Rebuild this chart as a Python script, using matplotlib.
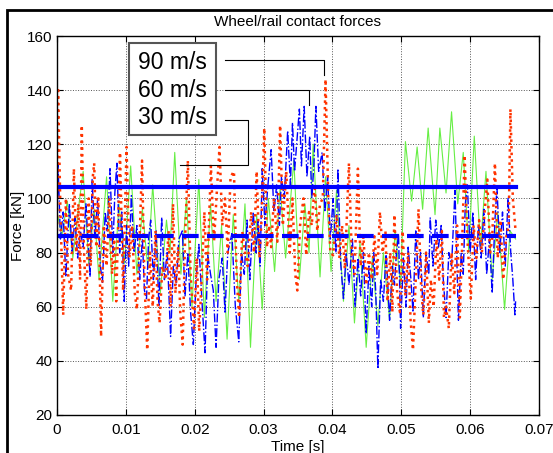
import numpy as np
import matplotlib.pyplot as plt
from matplotlib.patches import Rectangle

plt.rcParams['font.family'] = ['Liberation Sans', 'DejaVu Sans']

# 30 m/s (green, solid) - peaks/troughs, time in ms
t30 = [0.0, 0.7, 1.5, 2.3, 3.1, 3.8, 4.6, 5.4, 6.1, 7.2, 8.1, 9.0, 9.8, 10.7, 11.6,
       12.4, 13.2, 13.9, 15.0, 15.9, 16.4, 17.1, 18.0, 18.8, 19.6, 20.6, 21.4, 22.3,
       23.1, 23.9, 24.7, 25.6, 26.4, 27.3, 28.1, 29.0, 29.8, 30.7, 31.6, 32.4, 33.2,
       34.4, 35.2, 36.0, 36.6, 37.2, 38.2, 39.0, 39.8, 40.6, 41.6, 42.4, 43.2, 44.0,
       44.9, 45.8, 46.6, 47.4, 48.3, 49.1, 49.9, 50.6, 51.5, 52.3, 53.1, 53.9, 54.9,
       55.6, 56.5, 57.3, 58.2, 59.0, 59.8, 60.6, 61.5, 62.3, 63.2, 64.0, 65.0, 65.8, 66.6]
f30 = [95, 86, 99, 78, 96, 110, 76, 96, 70, 108, 62, 98, 76, 112, 72,
       96, 74, 105, 65, 92, 80, 117, 72, 100, 60, 107, 56, 98,
       62, 90, 48, 94, 62, 98, 45, 94, 59, 100, 73, 104, 78,
       114, 70, 98, 80, 120, 71, 108, 73, 103, 62, 90, 54, 84,
       45, 78, 53, 80, 55, 88, 68, 121, 99, 119, 96, 126, 94,
       126, 102, 132, 98, 117, 80, 123, 82, 110, 70, 95, 59, 88, 85]

# 60 m/s (blue, dash-dot)
t60 = [0.0, 0.15, 0.5, 0.9, 1.28, 1.8, 2.2, 2.6, 3.0, 3.4, 3.8, 4.2, 4.8, 5.1, 5.5,
       5.9, 6.3, 6.6, 7.0, 7.3, 7.7, 8.1, 8.4, 8.7, 9.1, 9.4, 9.76, 10.1, 10.4, 10.8,
       11.2, 11.6, 12.0, 12.4, 12.7, 13.0, 13.3, 13.6, 14.0, 14.4, 14.8, 15.2, 15.6,
       16.0, 16.5, 16.9, 17.3, 17.7, 18.2, 18.6, 19.0, 19.4, 19.8, 20.2, 20.6, 21.1,
       21.5, 21.9, 22.3, 22.7, 23.1, 23.5, 24.0, 24.4, 24.8, 25.4, 25.9, 26.4, 26.8,
       27.2, 27.6, 28.0, 28.5, 28.9, 29.2, 29.5, 29.8, 30.2, 30.6, 31.1, 31.5, 31.9,
       32.3, 32.6, 33.0, 33.5, 33.9, 34.2, 34.5, 34.8, 35.2, 35.5, 35.9, 36.3, 36.7,
       37.0, 37.3, 37.6, 38.0, 38.5, 38.9, 39.3, 39.7, 40.1, 40.5, 40.8, 41.2, 41.6,
       42.0, 42.4, 42.9, 43.3, 43.7, 44.1, 44.5, 44.9, 45.3, 45.7, 46.0, 46.3, 46.6,
       47.0, 47.4, 47.8, 48.3, 48.7, 49.0, 49.3, 49.6, 49.9, 50.3, 50.7, 51.0, 51.4,
       51.7, 52.1, 52.5, 52.8, 53.2, 53.6, 54.0, 54.2, 54.6, 55.0, 55.4, 55.8, 56.1,
       56.5, 56.9, 57.3, 57.8, 58.1, 58.3, 58.7, 59.0, 59.3, 59.6, 60.0, 60.4, 60.8,
       61.2, 61.6, 62.0, 62.4, 62.8, 63.2, 63.6, 63.9, 64.3, 64.7, 65.1, 65.5, 65.9,
       66.2, 66.5, 66.6]
f60 = [90, 113, 85, 95, 71, 98, 80, 93, 78, 88, 82, 98, 71, 107, 85,
       100, 75, 69, 95, 88, 111, 80, 102, 113, 80, 95, 62, 90, 75, 101,
       80, 90, 70, 85, 66, 63, 85, 92, 70, 88, 60, 93, 70,
       80, 49, 75, 68, 85, 88, 64, 80, 58, 46, 70, 83, 60,
       43, 79, 72, 66, 45, 70, 78, 58, 80, 87, 60, 47, 80,
       72, 92, 70, 95, 80, 92, 75, 111, 90, 104, 118, 95, 105,
       90, 108, 100, 125, 105, 128, 110, 120, 133, 112, 134, 108, 123,
       100, 112, 134, 110, 117, 95, 108, 85, 100, 80, 111, 76, 63,
       80, 68, 85, 60, 78, 64, 80, 50, 75, 60, 80, 65, 37,
       70, 62, 80, 55, 75, 68, 80, 87, 52, 78, 60, 82, 70,
       58, 88, 70, 80, 56, 80, 72, 93, 75, 92, 82, 90, 70,
       56, 80, 75, 103, 75, 55, 80, 72, 98, 105, 80, 95, 70,
       90, 78, 96, 72, 85, 65, 92, 104, 80, 95, 75, 100, 80,
       70, 57, 62]

# 90 m/s (red, dotted)
t90 = [0.0, 0.15, 0.5, 0.9, 1.3, 1.6, 2.05, 2.45, 2.8, 3.1, 3.35, 3.6, 3.9, 4.26,
       4.6, 4.9, 5.2, 5.4, 5.7, 6.0, 6.4, 6.8, 7.2, 7.6, 8.0, 8.3, 8.6, 9.15, 9.6,
       10.1, 10.5, 10.9, 11.3, 11.6, 12.0, 12.35, 12.7, 13.1, 13.5, 13.9, 14.3, 14.6,
       14.9, 15.3, 15.8, 16.2, 16.5, 16.85, 17.2, 17.6, 17.9, 18.25, 18.6, 19.0, 19.4,
       19.9, 20.3, 20.65, 21.0, 21.4, 21.8, 22.35, 22.8, 23.2, 23.6, 24.0, 24.4, 24.8,
       25.2, 25.7, 26.1, 26.45, 26.9, 27.3, 27.7, 28.2, 28.6, 29.0, 29.4, 29.7, 30.1,
       30.5, 30.8, 31.1, 31.5, 32.0, 32.4, 32.8, 33.3, 33.8, 34.2, 34.6, 34.9, 35.3,
       35.8, 36.2, 36.6, 37.0, 37.4, 37.8, 38.2, 38.6, 39.0, 39.4, 39.7, 40.1, 40.6,
       41.0, 41.4, 41.8, 42.4, 42.8, 43.2, 43.7, 44.1, 44.5, 44.9, 45.3, 45.7, 46.1,
       46.5, 46.9, 47.3, 47.7, 48.0, 48.4, 48.7, 49.0, 49.4, 49.8, 50.2, 50.6, 51.0,
       51.35, 51.7, 52.1, 52.5, 52.9, 53.2, 53.6, 54.0, 54.3, 54.7, 55.1, 55.5, 55.9,
       56.2, 56.5, 56.9, 57.3, 57.7, 58.1, 58.5, 58.8, 59.2, 59.6, 60.1, 60.5, 60.9,
       61.3, 61.7, 62.1, 62.5, 62.9, 63.2, 63.6, 64.0, 64.4, 64.8, 65.2, 65.6, 65.85,
       66.2, 66.6]
f90 = [88, 141, 95, 57, 100, 72, 66, 111, 80, 98, 70, 127, 82, 59,
       100, 75, 108, 113, 82, 100, 49, 90, 75, 100, 72, 85, 62, 117, 66,
       119, 78, 90, 65, 59, 85, 114, 70, 44, 80, 60, 88, 62,
       54, 75, 70, 88, 60, 98, 65, 82, 58, 46, 85, 114, 72,
       52, 78, 51, 70, 95, 70, 112, 84, 102, 119, 90, 100, 80,
       108, 110, 70, 56, 88, 80, 75, 95, 80, 110, 78, 92, 126,
       82, 90, 82, 100, 84, 127, 90, 110, 80, 100, 72, 66, 90,
       100, 79, 95, 90, 105, 88, 98, 100, 144, 100, 80, 79, 94,
       78, 90, 74, 113, 80, 72, 111, 75, 86, 68, 80, 70, 86,
       72, 95, 80, 88, 62, 80, 58, 94, 65, 58, 88, 64, 80,
       55, 44, 70, 96, 66, 57, 80, 54, 70, 60, 85, 70, 88,
       56, 60, 52, 80, 65, 90, 56, 80, 116, 85, 63, 90, 78,
       92, 80, 95, 107, 80, 85, 113, 78, 92, 70, 85, 90, 133,
       100, 88]

# mean levels (horizontal reference lines)
mean_hi = 104.3
mean_lo = 86.2
t_end = 0.0666

fig = plt.figure(figsize=(5.53, 4.53), dpi=100)
ax = fig.add_axes([57 / 553, 1 - 415 / 453, 482 / 553, 379 / 453])

ax.plot(np.array(t30) / 1000, f30, '-', color='#66ee44', lw=0.8)
ax.plot(np.array(t60) / 1000, f60, '-.', color='#0000ff', lw=1.0)
ax.plot(np.array(t90) / 1000, f90, ':', color='#ff3300', lw=1.8)

ax.plot([0, t_end], [mean_hi, mean_hi], '-', color='#0000ff', lw=3)
ax.plot([0, t_end], [mean_lo, mean_lo], '--', color='#0000ff', lw=3, dashes=(4, 2))

ax.set_xlim(0, 0.07)
ax.set_ylim(20, 160)
ax.set_xticks(np.arange(0, 0.071, 0.01))
ax.set_xticklabels(['0', '0.01', '0.02', '0.03', '0.04', '0.05', '0.06', '0.07'])
ax.set_yticks(np.arange(20, 161, 20))
ax.grid(True, linestyle=':', color='#555555', lw=0.7)
ax.tick_params(direction='in', top=True, right=True, labelsize=11, length=4)
ax.tick_params(axis='x', pad=6)
ax.set_xlabel('Time [s]', fontsize=11, labelpad=2)
ax.set_ylabel('Force [kN]', fontsize=11, labelpad=1)
ax.set_title('Wheel/rail contact forces', fontsize=11, pad=7)
for s in ax.spines.values():
    s.set_linewidth(1.0)

# legend box with leader lines
ax.add_patch(Rectangle((0.01043, 123.3), 0.01267, 34.0, facecolor='white',
                       edgecolor='#555555', lw=1.5, zorder=5))
for label, y in [('90 m/s', 150.1), ('60 m/s', 140.0), ('30 m/s', 129.8)]:
    ax.text(0.0118, y, label, fontsize=16.5, va='center', ha='left', zorder=6)
ax.plot([0.0244, 0.0388, 0.0388], [151.3, 151.3, 145.5], 'k-', lw=0.8, zorder=6)
ax.plot([0.0244, 0.0366, 0.0366], [140.0, 140.0, 134.4], 'k-', lw=0.8, zorder=6)
ax.plot([0.0244, 0.0278, 0.0278, 0.0179], [129.0, 129.0, 112.2, 112.2], 'k-', lw=0.8, zorder=6)

# outer frame of the figure
fig.patches.append(Rectangle((7 / 553, -0.1), 1.2, 1 - 10 / 453 + 0.1,
                             transform=fig.transFigure, fill=False,
                             edgecolor='black', lw=2))

fig.savefig('out.png', dpi=100)
